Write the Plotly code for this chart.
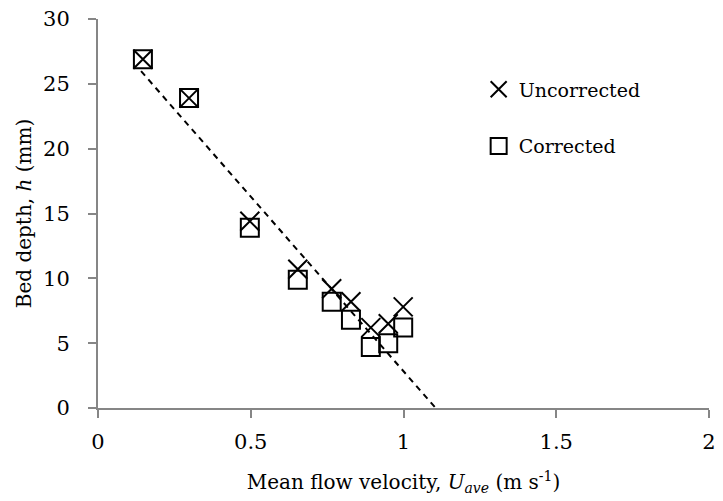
import numpy as np
import plotly.graph_objects as go

# Data
velocity = [0.147, 0.298, 0.497, 0.654, 0.765, 0.828, 0.893, 0.950, 0.999]
depth_uncorrected = [26.9, 23.9, 14.4, 10.7, 9.2, 8.2, 6.2, 6.5, 7.8]
depth_corrected = [26.9, 23.9, 13.9, 9.9, 8.2, 6.8, 4.7, 5.0, 6.2]

x_ticks = [0, 0.5, 1, 1.5, 2]
x_tick_text = ["0", "0.5", "1", "1.5", "2"]
y_ticks = [0, 5, 10, 15, 20, 25, 30]

# Linear trendline fitted to the corrected data, extended to h = 0
slope, intercept = np.polyfit(velocity, depth_corrected, 1)
x_end = -intercept / slope
trend_x = [min(velocity) - 0.006, x_end]
trend_y = [slope * v + intercept for v in trend_x]

FONT = "DejaVu Serif"
AXIS_COLOR = "#868686"

fig = go.Figure()
fig.add_trace(go.Scatter(
    x=trend_x, y=trend_y, mode="lines",
    line=dict(color="black", width=2, dash="6px,5px"),
    showlegend=False, hoverinfo="skip",
))
fig.add_trace(go.Scatter(
    x=velocity, y=depth_uncorrected, mode="markers", name="Uncorrected",
    marker=dict(symbol="x-thin", size=19, color="black",
                line=dict(color="black", width=2)),
    legendgroup="a",
))
fig.add_trace(go.Scatter(
    x=velocity, y=depth_corrected, mode="markers", name="Corrected",
    marker=dict(symbol="square-open", size=18, color="black",
                line=dict(color="black", width=2)),
    legendgroup="b",
))

fig.update_layout(
    width=723, height=501,
    margin=dict(l=98, r=7, t=17, b=93),
    paper_bgcolor="white", plot_bgcolor="white",
    font=dict(family=FONT, size=19, color="black"),
    legend=dict(
        x=0.623, y=0.868, xanchor="left", yanchor="top",
        font=dict(family=FONT, size=19, color="black"),
        tracegroupgap=29, traceorder="grouped",
        itemwidth=30, bgcolor="rgba(0,0,0,0)",
    ),
    xaxis=dict(
        range=[0, 2], tickvals=x_ticks, ticktext=x_tick_text,
        showline=True, linecolor=AXIS_COLOR, linewidth=2,
        ticks="outside", ticklen=8, tickwidth=2, tickcolor=AXIS_COLOR,
        showgrid=False, zeroline=False, ticklabelstandoff=6,
        tickfont=dict(family=FONT, size=21, color="black"),
        title=dict(text="Mean flow velocity, <i>U<sub>ave</sub></i> (m s<sup>-1</sup>)",
                   font=dict(family=FONT, size=20, color="black"), standoff=22),
    ),
    yaxis=dict(
        range=[0, 30], tickvals=y_ticks,
        showline=True, linecolor=AXIS_COLOR, linewidth=2,
        ticks="outside", ticklen=8, tickwidth=2, tickcolor=AXIS_COLOR,
        showgrid=False, zeroline=False, ticklabelstandoff=14,
        tickfont=dict(family=FONT, size=21, color="black"),
        title=dict(text="Bed depth, <i>h</i> (mm)",
                   font=dict(family=FONT, size=20, color="black"), standoff=6),
    ),
)

fig.write_html("out.html")
